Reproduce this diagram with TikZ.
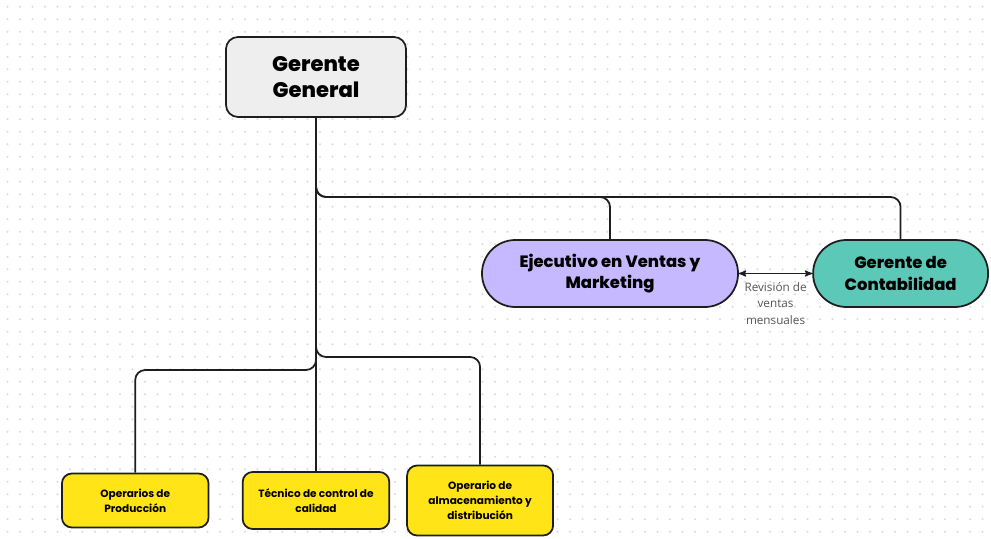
\documentclass[tikz,border=0pt]{standalone}
\usepackage{fontspec}
\setmainfont{Poppins}
\newfontfamily\heavyfont{Poppins}[UprightFont=* ExtraBold]
\newfontfamily\notefont{Open Sans}
\usetikzlibrary{positioning, arrows}

\definecolor{edgec}{HTML}{1E1E1E}
\definecolor{dotc}{HTML}{DADAE2}
\definecolor{bossgray}{HTML}{EEEEEE}
\definecolor{salesviolet}{HTML}{C7B9FF}
\definecolor{acctteal}{HTML}{5BC8B8}
\definecolor{staffyellow}{HTML}{FFE418}
\definecolor{notegray}{HTML}{555555}

\begin{document}
\begin{tikzpicture}
[x=0.03cm, y=-0.03cm,
 >=stealth',
 line width=1.5pt,
 boss/.style={draw=edgec, fill=bossgray, align=center, rounded corners=0.36cm,
   minimum width=5.4cm, minimum height=2.4cm,
   font=\heavyfont\fontsize{18}{21.5}\selectfont},
 lead/.style={draw=edgec, align=center, rounded corners=1cm, minimum height=2.01cm,
   font=\heavyfont\fontsize{14}{18}\selectfont},
 staff/.style={draw=edgec, fill=staffyellow, align=center, rounded corners=0.3cm,
   minimum width=4.4cm, font=\bfseries\fontsize{9}{13}\selectfont},
 link/.style={draw=edgec, rounded corners=0.3cm}
]
\useasboundingbox[fill=white] (0,0) rectangle (991,539);

% dotted canvas
\foreach \i in {0,...,79}
  \foreach \j in {0,...,42}
    \fill[dotc] (7.5+12.5*\i, 6.7+12.5*\j) circle (0.035cm);

\node[boss] (gerente) at (316,77) {Gerente\\General};

\node[lead, fill=salesviolet, minimum width=7.68cm] (ventas) at (610,273.5)
  {Ejecutivo en Ventas y\\Marketing};
\node[lead, fill=acctteal, minimum width=5.25cm, right=2.2cm of ventas] (contab)
  {Gerente de\\Contabilidad};

\node[staff, minimum height=1.71cm] (calidad) at (gerente |- 0,500.5)
  {Técnico de control de\\calidad};
\node[staff, minimum height=1.62cm, left=0.97cm of calidad] (produccion) {Operarios de\\Producción};
\node[staff, minimum height=2.1cm, minimum width=4.38cm, right=0.48cm of calidad] (almacen)
  {Operario de\\almacenamiento y\\distribución};

% bus levels
\coordinate (topbus) at (0,197);
\coordinate (rightbus) at (0,357);
\coordinate (leftbus) at (0,370);

\draw[link] (gerente.south) |- (ventas.north |- topbus) -- (ventas.north);
\draw[link] (gerente.south) |- (contab.north |- topbus) -- (contab.north);
\draw[link] (gerente.south) |- (produccion.north |- leftbus) -- (produccion.north);
\draw[link] (gerente.south) |- (almacen.north |- rightbus) -- (almacen.north);
\draw[link] (gerente.south) -- (calidad.north);

\draw[<->, line width=1.2pt, draw=edgec] (ventas.east) -- (contab.west)
  node[midway, below=6pt, align=center, text=notegray, inner sep=1pt,
       font=\notefont\fontsize{10}{14}\selectfont] (nota) {Revisión de\\ventas\\mensuales};
\end{tikzpicture}
\end{document}
